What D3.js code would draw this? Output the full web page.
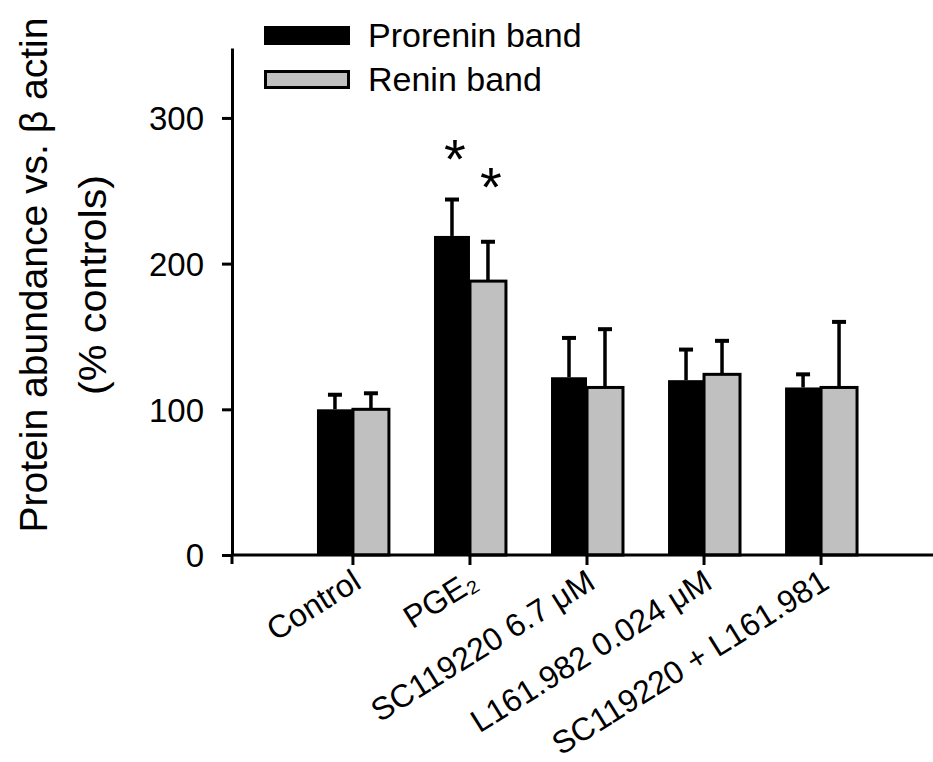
<!DOCTYPE html>
<html>
<head>
<meta charset="utf-8">
<script src="https://cdn.jsdelivr.net/npm/d3@7"></script>
<style>
  html, body { margin: 0; padding: 0; background: #fff; overflow: hidden; }
  svg { display: block; }
  text { font-family: Arial, "Liberation Sans", sans-serif; fill: #000; }
</style>
</head>
<body>
<div id="chart"></div>
<script>
// data
var groups = ["Control", "PGE\u2082", "SC119220 6.7 \u03bcM", "L161.982 0.024 \u03bcM", "SC119220 + L161.981"];
var series = ["Prorenin band", "Renin band"];
var prorenin = [100, 219, 122, 120, 115];
var proreninErr = [10, 25, 27, 21, 9];
var renin = [100, 188, 115, 124, 115];
var reninErr = [11, 27, 40, 23, 45];
var proreninSig = [false, true, false, false, false];
var reninSig = [false, true, false, false, false];
var yTicks = [0, 100, 200, 300];

var svgWidth = 933;
var svgHeight = 762;

var svg = d3.select("#chart")
  .append("svg")
  .attr("width", svgWidth)
  .attr("height", svgHeight);

// scales
var y = d3.scaleLinear().domain([0, 348]).range([555, 48]);

var x0 = d3.scaleBand()
  .domain(groups)
  .range([232, 942])
  .paddingInner(0.385)
  .paddingOuter(0.726);

var x1 = d3.scaleBand()
  .domain(series)
  .range([0, x0.bandwidth()]);

var fills = ["#000000", "#c0c0c0"];
var starOffset = [54, 68];

// build rows
var rows = groups.map(function(g, i) {
  return [
    { group: g, key: series[0], value: prorenin[i], err: proreninErr[i], sig: proreninSig[i], s: 0 },
    { group: g, key: series[1], value: renin[i], err: reninErr[i], sig: reninSig[i], s: 1 }
  ];
});
var flat = [].concat.apply([], rows);

// bars
svg.append("g")
  .selectAll("rect")
  .data(flat)
  .enter()
  .append("rect")
  .attr("x", d => x0(d.group) + x1(d.key))
  .attr("y", d => y(d.value))
  .attr("width", x1.bandwidth())
  .attr("height", d => y(0) - y(d.value))
  .attr("fill", d => fills[d.s])
  .attr("stroke", "#000")
  .attr("stroke-width", d => d.s === 1 ? 3 : 0);

// error bars (upper only)
var eb = svg.append("g").attr("stroke", "#000");
eb.selectAll("line.v")
  .data(flat)
  .enter()
  .append("line")
  .attr("class", "v")
  .attr("x1", d => x0(d.group) + x1(d.key) + x1.bandwidth() / 2)
  .attr("x2", d => x0(d.group) + x1(d.key) + x1.bandwidth() / 2)
  .attr("y1", d => y(d.value))
  .attr("y2", d => y(d.value + d.err))
  .attr("stroke-width", 3.5);
eb.selectAll("line.cap")
  .data(flat)
  .enter()
  .append("line")
  .attr("class", "cap")
  .attr("x1", d => x0(d.group) + x1(d.key) + x1.bandwidth() / 2 - 7)
  .attr("x2", d => x0(d.group) + x1(d.key) + x1.bandwidth() / 2 + 7)
  .attr("y1", d => y(d.value + d.err))
  .attr("y2", d => y(d.value + d.err))
  .attr("stroke-width", 4);

// significance stars
svg.append("g")
  .selectAll("text")
  .data(flat.filter(d => d.sig))
  .enter()
  .append("text")
  .attr("x", d => x0(d.group) + x1(d.key) + x1.bandwidth() / 2 + 3)
  .attr("y", d => y(d.value + d.err) - starOffset[d.s] + 32)
  .attr("text-anchor", "middle")
  .style("font-size", "56px")
  .text("*");

// y axis
var leftAxis = d3.axisLeft(y).tickValues(yTicks).tickSize(10).tickSizeOuter(0).tickPadding(18);
var yAxisG = svg.append("g")
  .attr("transform", "translate(232,0)")
  .call(leftAxis);
yAxisG.select(".domain").attr("stroke-width", 3);
yAxisG.selectAll(".tick line").attr("stroke-width", 3);
yAxisG.selectAll(".tick text").style("font-size", "33px").attr("dy", "0.36em");
svg.append("line")
  .attr("x1", 232).attr("x2", 232)
  .attr("y1", y(0)).attr("y2", y(0) + 9)
  .attr("stroke", "#000").attr("stroke-width", 3);

// x axis
var bottomAxis = d3.axisBottom(x0).tickSize(10).tickSizeOuter(0);
var xAxisG = svg.append("g")
  .attr("transform", `translate(0, ${y(0)})`)
  .call(bottomAxis);
xAxisG.select(".domain").remove();
xAxisG.append("line")
  .attr("x1", 231).attr("x2", svgWidth)
  .attr("y1", 0).attr("y2", 0)
  .attr("stroke", "#000").attr("stroke-width", 3);
xAxisG.selectAll(".tick line").attr("stroke-width", 3);
xAxisG.selectAll(".tick text")
  .attr("x", 0)
  .attr("y", 0)
  .attr("dy", 0)
  .attr("text-anchor", "end")
  .attr("transform", "translate(10, 32) rotate(-32)")
  .style("font-size", "32px");

// y axis title
svg.append("text")
  .attr("transform", "translate(47, 275) rotate(-90)")
  .attr("text-anchor", "middle")
  .attr("textLength", 515)
  .attr("lengthAdjust", "spacingAndGlyphs")
  .style("font-size", "38px")
  .text("Protein abundance vs. \u03b2 actin");

svg.append("text")
  .attr("transform", "translate(106, 285) rotate(-90)")
  .attr("text-anchor", "middle")
  .attr("textLength", 220)
  .attr("lengthAdjust", "spacingAndGlyphs")
  .style("font-size", "38px")
  .text("(% controls)");

// legend
var legend = svg.append("g")
  .selectAll("g")
  .data(series)
  .enter()
  .append("g")
  .attr("transform", (d, i) => `translate(264, ${26 + i * 44})`);

legend.append("rect")
  .attr("x", (d, i) => i === 1 ? 1.5 : 0)
  .attr("y", (d, i) => i === 1 ? 1.5 : 0)
  .attr("width", (d, i) => i === 1 ? 83 : 86)
  .attr("height", (d, i) => i === 1 ? 16 : 19)
  .attr("fill", (d, i) => fills[i])
  .attr("stroke", "#000")
  .attr("stroke-width", (d, i) => i === 1 ? 3 : 0);

legend.append("text")
  .attr("x", 104)
  .attr("y", 21)
  .style("font-size", "34px")
  .text(d => d);
</script>
</body>
</html>
